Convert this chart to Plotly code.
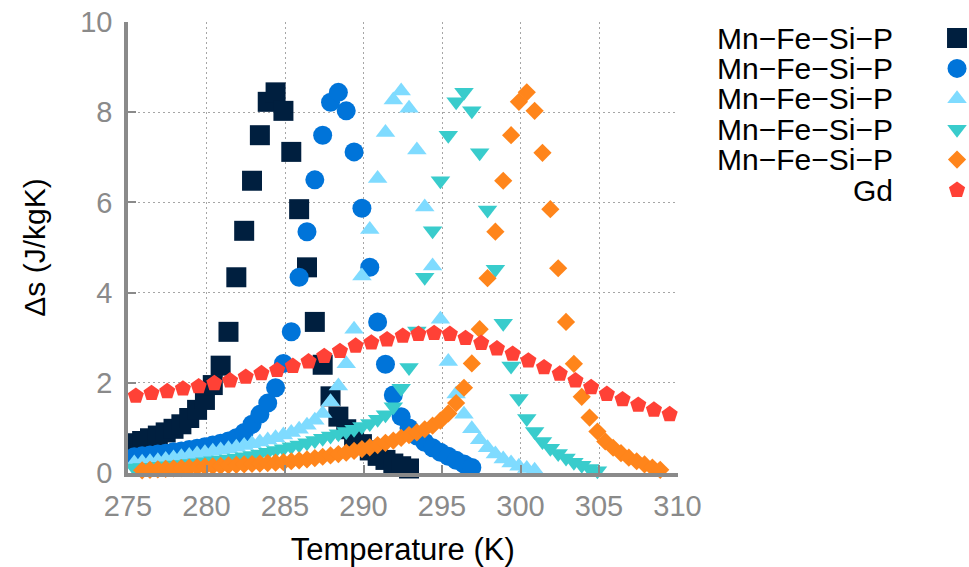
import plotly.graph_objects as go

# ---------------- data ----------------
names = ["Mn\u2212Fe\u2212Si\u2212P"] * 5 + ["Gd"]
colors = ["#001f3f", "#0074d9", "#7fdbff", "#39cccc", "#ff851b", "#ff4136"]
symbols = ["square", "circle", "triangle-up", "triangle-down", "diamond", "pentagon"]
sizes = [20, 19, 17, 17, 14, 17]

t1 = [275.4, 275.9, 276.4, 276.9, 277.4, 277.9, 278.4, 278.9, 279.4, 279.9, 280.4, 280.9,
      281.4, 281.9, 282.4, 282.9, 283.4, 283.9, 284.4, 284.9, 285.4, 285.9, 286.4, 286.9,
      287.4, 287.9, 288.4, 288.9, 289.4, 289.9, 290.4, 290.9, 291.4, 291.9, 292.4, 292.9]
s1 = [0.66, 0.71, 0.77, 0.83, 0.90, 0.98, 1.08, 1.22, 1.40, 1.62, 1.95, 2.38,
      3.13, 4.34, 5.37, 6.48, 7.49, 8.23, 8.44, 8.03, 7.12, 5.85, 4.56, 3.35,
      2.40, 1.70, 1.25, 0.97, 0.80, 0.64, 0.50, 0.38, 0.29, 0.21, 0.15, 0.10]

t2 = [275.4, 275.9, 276.4, 276.9, 277.4, 277.9, 278.4, 278.9, 279.4, 279.9, 280.4, 280.9,
      281.4, 281.9, 282.4, 282.9, 283.4, 283.9, 284.4, 284.9, 285.4, 285.9, 286.4, 286.9,
      287.4, 287.9, 288.4, 288.9, 289.4, 289.9, 290.4, 290.9, 291.4, 291.9, 292.4, 292.9,
      293.4, 293.9, 294.4, 294.9, 295.4, 295.9, 296.4, 296.9]
s2 = [0.36, 0.38, 0.40, 0.42, 0.44, 0.47, 0.49, 0.52, 0.55, 0.58, 0.62, 0.66,
      0.71, 0.78, 0.90, 1.08, 1.30, 1.55, 1.89, 2.43, 3.13, 4.34, 5.35, 6.50,
      7.49, 8.22, 8.44, 8.03, 7.12, 5.87, 4.56, 3.35, 2.41, 1.73, 1.25, 1.00,
      0.82, 0.68, 0.56, 0.46, 0.37, 0.28, 0.20, 0.12]

t3 = [275.4, 275.9, 276.4, 276.9, 277.4, 277.9, 278.4, 278.9, 279.4, 279.9, 280.4, 280.9,
      281.4, 281.9, 282.4, 282.9, 283.4, 283.9, 284.4, 284.9, 285.4, 285.9, 286.4, 286.9,
      287.4, 287.9, 288.4, 288.9, 289.4, 289.9, 290.4, 290.9, 291.4, 291.9, 292.4, 292.9,
      293.4, 293.9, 294.4, 294.9, 295.4, 295.9, 296.4, 296.9, 297.4, 297.9, 298.4, 298.9,
      299.4, 299.9, 300.4, 300.9]
s3 = [0.22, 0.24, 0.25, 0.27, 0.30, 0.33, 0.36, 0.39, 0.42, 0.45, 0.48, 0.51,
      0.54, 0.57, 0.61, 0.65, 0.69, 0.73, 0.78, 0.84, 0.90, 0.97, 1.06, 1.17,
      1.32, 1.58, 1.93, 2.42, 3.19, 4.37, 5.40, 6.53, 7.55, 8.27, 8.47, 8.09,
      7.16, 5.90, 4.59, 3.41, 2.47, 1.75, 1.30, 0.98, 0.74, 0.56, 0.42, 0.31,
      0.22, 0.15, 0.10, 0.06]

t4 = [275.4, 275.9, 276.4, 276.9, 277.4, 277.9, 278.4, 278.9, 279.4, 279.9, 280.4, 280.9,
      281.4, 281.9, 282.4, 282.9, 283.4, 283.9, 284.4, 284.9, 285.4, 285.9, 286.4, 286.9,
      287.4, 287.9, 288.4, 288.9, 289.4, 289.9, 290.4, 290.9, 291.4, 291.9, 292.4, 292.9,
      293.4, 293.9, 294.4, 294.9, 295.4, 295.9, 296.4, 296.9, 297.4, 297.9, 298.4, 298.9,
      299.4, 299.9, 300.4, 300.9, 301.4, 301.9, 302.4, 302.9, 303.4, 303.9, 304.4, 304.9]
s4 = [0.11, 0.12, 0.13, 0.15, 0.16, 0.18, 0.19, 0.21, 0.23, 0.25, 0.27, 0.29,
      0.31, 0.33, 0.36, 0.39, 0.42, 0.46, 0.50, 0.54, 0.58, 0.62, 0.67, 0.72,
      0.77, 0.82, 0.87, 0.92, 0.97, 1.03, 1.10, 1.19, 1.29, 1.47, 1.88, 2.34,
      3.15, 4.34, 5.37, 6.48, 7.49, 8.23, 8.44, 8.03, 7.10, 5.83, 4.52, 3.32,
      2.37, 1.65, 1.21, 0.92, 0.70, 0.55, 0.43, 0.33, 0.24, 0.17, 0.10, 0.05]

t5 = [275.9, 276.4, 276.9, 277.4, 277.9, 278.4, 278.9, 279.4, 279.9, 280.4, 280.9,
      281.4, 281.9, 282.4, 282.9, 283.4, 283.9, 284.4, 284.9, 285.4, 285.9, 286.4, 286.9,
      287.4, 287.9, 288.4, 288.9, 289.4, 289.9, 290.4, 290.9, 291.4, 291.9, 292.4, 292.9,
      293.4, 293.9, 294.4, 294.9, 295.4, 295.9, 296.4, 296.9, 297.4, 297.9, 298.4, 298.9,
      299.4, 299.9, 300.4, 300.9, 301.4, 301.9, 302.4, 302.9, 303.4, 303.9, 304.4, 304.9,
      305.4, 305.9, 306.4, 306.9, 307.4, 307.9, 308.4, 308.9]
s5 = [0.06, 0.07, 0.08, 0.09, 0.10, 0.11, 0.12, 0.13, 0.14, 0.15, 0.16,
      0.17, 0.18, 0.19, 0.20, 0.21, 0.22, 0.23, 0.24, 0.26, 0.28, 0.30, 0.33,
      0.36, 0.39, 0.42, 0.45, 0.49, 0.53, 0.57, 0.62, 0.67, 0.72, 0.78, 0.84,
      0.90, 0.97, 1.05, 1.16, 1.32, 1.55, 1.89, 2.43, 3.19, 4.32, 5.35, 6.48,
      7.49, 8.23, 8.44, 8.03, 7.10, 5.85, 4.54, 3.35, 2.42, 1.69, 1.23, 0.92,
      0.70, 0.56, 0.44, 0.34, 0.26, 0.19, 0.12, 0.07]

t_gd = [275.5, 276.5, 277.5, 278.5, 279.5, 280.5, 281.5, 282.5, 283.5, 284.5, 285.5, 286.5,
        287.5, 288.5, 289.5, 290.5, 291.5, 292.5, 293.5, 294.5, 295.5, 296.5, 297.5, 298.5,
        299.5, 300.5, 301.5, 302.5, 303.5, 304.5, 305.5, 306.5, 307.5, 308.5, 309.5]
s_gd = [1.71, 1.77, 1.81, 1.87, 1.92, 1.99, 2.05, 2.13, 2.21, 2.28, 2.37, 2.47,
        2.59, 2.70, 2.82, 2.89, 2.96, 3.04, 3.08, 3.10, 3.08, 2.99, 2.88, 2.76,
        2.64, 2.49, 2.34, 2.20, 2.05, 1.90, 1.75, 1.63, 1.51, 1.40, 1.30]

x_ticks = [275, 280, 285, 290, 295, 300, 305, 310]
y_ticks = [0, 2, 4, 6, 8, 10]
legend_rows = [0, 1, 2, 3, 4, 5]

series_t = [t1, t2, t3, t4, t5, t_gd]
series_s = [s1, s2, s3, s4, s5, s_gd]

# ---------------- figure ----------------
FONT = "Liberation Sans, Arial, Helvetica, sans-serif"
GRAY = "#8a8a8a"

fig = go.Figure()
for t, s, c, sym, sz in zip(series_t, series_s, colors, symbols, sizes):
    fig.add_trace(go.Scatter(
        x=t, y=s, mode="markers", showlegend=False, cliponaxis=False,
        marker=dict(symbol=sym, size=sz, color=c, line=dict(width=0)),
        xaxis="x", yaxis="y", hoverinfo="skip"))

# custom legend (text left, symbol right) on a helper axis pair
for row, c, sym, sz in zip(legend_rows, colors, symbols, sizes):
    fig.add_trace(go.Scatter(
        x=[1], y=[row], mode="markers", showlegend=False, cliponaxis=False,
        marker=dict(symbol=sym, size=sz, color=c, line=dict(width=0)),
        xaxis="x2", yaxis="y2", hoverinfo="skip"))
for row, name in zip(legend_rows, names):
    fig.add_annotation(x=0, y=row, xref="x2", yref="y2", text=name,
                       showarrow=False, xanchor="right", yanchor="middle",
                       font=dict(family=FONT, size=30, color="black"))

plot_w = 969 - 128
fig.update_layout(
    width=969, height=567,
    margin=dict(l=128, r=0, t=22, b=94, pad=0, autoexpand=False),
    paper_bgcolor="white", plot_bgcolor="white",
    font=dict(family=FONT),
    showlegend=False,
    xaxis=dict(
        domain=[0, 549.5 / plot_w], range=[275, 310], automargin=False,
        tickmode="array", tickvals=x_ticks, ticktext=[str(v) for v in x_ticks],
        showline=True, linecolor=GRAY, linewidth=3.5,
        ticks="inside", ticklen=8, tickwidth=1.5, tickcolor=GRAY,
        showgrid=True, gridcolor="#a6a6a6", gridwidth=1, griddash="2px,3px",
        zeroline=False, tickfont=dict(size=29, color=GRAY),
        ticklabelstandoff=4,
        title=dict(text="Temperature (K)", font=dict(size=31, color="black"), standoff=19),
    ),
    yaxis=dict(
        range=[0, 10], automargin=False,
        tickmode="array", tickvals=y_ticks, ticktext=[str(v) for v in y_ticks],
        showline=True, linecolor=GRAY, linewidth=3.5,
        ticks="inside", ticklen=8, tickwidth=1.5, tickcolor=GRAY,
        showgrid=True, gridcolor="#a6a6a6", gridwidth=1, griddash="2px,3px",
        zeroline=False, tickfont=dict(size=29, color=GRAY),
        ticklabelstandoff=6,
        title=dict(text="\u0394s (J/kgK)", font=dict(size=30, color="black"), standoff=27),
    ),
    xaxis2=dict(domain=[555.1 / plot_w, 1], range=[-3.418, 1.193], anchor="y2",
                visible=False, fixedrange=True, automargin=False),
    yaxis2=dict(domain=[0, 1], range=[(473 - 38) / 30.4, -16 / 30.4], anchor="x2",
                visible=False, fixedrange=True, automargin=False),
)

fig.write_html("out.html")
